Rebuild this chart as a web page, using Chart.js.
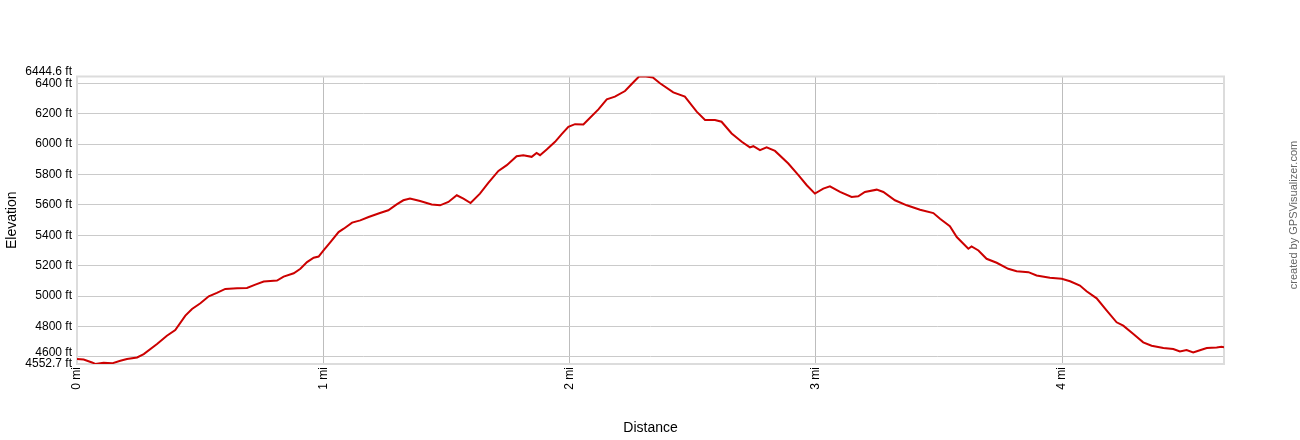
<!DOCTYPE html>
<html>
<head>
<meta charset="utf-8">
<title>Elevation profile</title>
<script src="https://cdn.jsdelivr.net/npm/chart.js@4.4.0/dist/chart.umd.min.js"></script>
<style>
  html, body { margin: 0; padding: 0; background: #fff; }
  .chart-box { position: relative; width: 1300px; height: 440px; }
</style>
</head>
<body>
<div class="chart-box"><canvas id="profile"></canvas></div>
<script>
'use strict';

// Distance along the track (mi)
var distMi = [
  0.000, 0.027, 0.061, 0.074, 0.108, 0.142, 0.176, 0.203, 0.244, 0.271,
  0.325, 0.365, 0.399, 0.440, 0.467, 0.501, 0.535, 0.568, 0.602, 0.650,
  0.690, 0.724, 0.758, 0.812, 0.839, 0.880, 0.907, 0.934, 0.961, 0.981,
  1.001, 1.029, 1.062, 1.083, 1.117, 1.150, 1.184, 1.230, 1.264, 1.298,
  1.325, 1.352, 1.393, 1.440, 1.474, 1.508, 1.542, 1.569, 1.598, 1.636,
  1.670, 1.711, 1.745, 1.785, 1.812, 1.846, 1.866, 1.880, 1.907, 1.941,
  1.968, 1.995, 2.022, 2.056, 2.076, 2.117, 2.151, 2.184, 2.225, 2.262,
  2.282, 2.310, 2.338, 2.367, 2.421, 2.468, 2.516, 2.550, 2.590, 2.617,
  2.658, 2.699, 2.732, 2.746, 2.773, 2.800, 2.834, 2.888, 2.929, 2.963,
  2.996, 3.030, 3.057, 3.098, 3.145, 3.172, 3.199, 3.247, 3.274, 3.321,
  3.369, 3.423, 3.477, 3.504, 3.544, 3.572, 3.599, 3.619, 3.632, 3.660,
  3.693, 3.734, 3.781, 3.815, 3.863, 3.896, 3.950, 3.998, 4.032, 4.072,
  4.099, 4.140, 4.181, 4.221, 4.248, 4.289, 4.329, 4.363, 4.411, 4.451,
  4.478, 4.505, 4.532, 4.553, 4.587, 4.627, 4.647, 4.657
];

// Elevation (ft)
var elevFt = [
  4585, 4582, 4563, 4553, 4561, 4557, 4574, 4585, 4596, 4618,
  4684, 4739, 4776, 4871, 4915, 4952, 4998, 5021, 5047, 5051,
  5053, 5075, 5095, 5102, 5128, 5150, 5179, 5223, 5252, 5260,
  5300, 5355, 5421, 5443, 5483, 5498, 5520, 5546, 5564, 5603,
  5630, 5641, 5625, 5603, 5597, 5619, 5663, 5641, 5612, 5674,
  5744, 5823, 5861, 5920, 5927, 5916, 5942, 5927, 5964, 6015,
  6065, 6114, 6131, 6129, 6162, 6228, 6294, 6312, 6349, 6412,
  6444.6, 6444, 6438, 6400, 6340, 6312, 6213, 6158, 6158, 6147,
  6070, 6015, 5978, 5986, 5960, 5978, 5955, 5872, 5795, 5729,
  5674, 5707, 5722, 5685, 5652, 5656, 5685, 5700, 5685, 5630,
  5597, 5568, 5546, 5509, 5460, 5388, 5344, 5311, 5326, 5300,
  5245, 5219, 5179, 5163, 5157, 5135, 5120, 5113, 5097, 5069,
  5031, 4985, 4904, 4827, 4805, 4750, 4695, 4673, 4658, 4651,
  4635, 4644, 4628, 4640, 4658, 4662, 4666, 4662
];

// Axis ticks
var yTicks = [4552.7, 4600, 4800, 5000, 5200, 5400, 5600, 5800, 6000, 6200, 6400, 6444.6];
var xTicks = [0, 1, 2, 3, 4];
var yMin = 4552.7;
var yMax = 6444.6;
var xMax = 4.657;

Chart.defaults.font.family = '"Liberation Sans", Arial, Helvetica, sans-serif';
Chart.defaults.color = '#000';

var points = distMi.map(function(d, i) {
  return { x: d, y: elevFt[i] };
});

// Light frame round the plot area + credit text on the right
var framePlugin = {
  id: 'frame',
  beforeDatasetsDraw: function(chart) {
    var a = chart.chartArea;
    var ctx = chart.ctx;
    ctx.save();
    ctx.strokeStyle = '#dcdcdc';
    ctx.lineWidth = 2;
    ctx.strokeRect(a.left, a.top, a.right - a.left, a.bottom - a.top);
    ctx.restore();
  },
  afterDraw: function(chart) {
    var ctx = chart.ctx;
    ctx.save();
    ctx.translate(1294, 215);
    ctx.rotate(-Math.PI / 2);
    ctx.textAlign = 'center';
    ctx.textBaseline = 'middle';
    ctx.fillStyle = '#666';
    ctx.font = '11px "Liberation Sans", Arial, sans-serif';
    ctx.fillText('created by GPSVisualizer.com', 0, 0);
    ctx.restore();
  }
};

var ctx = document.getElementById('profile').getContext('2d');

var chart = new Chart(ctx, {
  type: 'line',
  data: {
    datasets: [
      {
        label: 'Elevation',
        data: points,
        borderColor: '#cc0000',
        borderWidth: 2,
        pointRadius: 0,
        tension: 0,
        fill: false
      }
    ]
  },
  plugins: [framePlugin],
  options: {
    responsive: true,
    maintainAspectRatio: false,
    animation: false,
    devicePixelRatio: 1,
    layout: { padding: { top: 76.5, right: 76, bottom: 0, left: 0 } },
    plugins: {
      legend: { display: false },
      tooltip: { enabled: false }
    },
    scales: {
      x: {
        type: 'linear',
        min: 0,
        max: xMax,
        afterBuildTicks: function(scale) {
          scale.ticks = xTicks.map(function(v) { return { value: v }; });
        },
        afterFit: function(scale) {
          scale.height = 76;
        },
        ticks: {
          autoSkip: false,
          minRotation: 90,
          maxRotation: 90,
          padding: 3,
          font: { size: 12 },
          color: '#000',
          callback: function(v) { return v + ' mi'; }
        },
        grid: {
          color: function(c) { return c.tick && c.tick.value === 0 ? 'rgba(0,0,0,0)' : '#bdbdbd'; },
          drawTicks: false
        },
        border: { display: false },
        title: {
          display: true,
          text: 'Distance',
          font: { size: 14 },
          color: '#000',
          padding: { top: 0, bottom: 3 }
        }
      },
      y: {
        type: 'linear',
        min: yMin,
        max: yMax,
        afterBuildTicks: function(scale) {
          scale.ticks = yTicks.map(function(v) { return { value: v }; });
        },
        afterFit: function(scale) {
          scale.width = 77;
        },
        ticks: {
          autoSkip: false,
          padding: 5,
          color: '#000',
          font: function(c) {
            var v = c.tick ? c.tick.value : 0;
            var lh = 1.2;
            if (v === yMax) lh = 0.85;
            if (v === 4600) lh = 0.7;
            return { size: 12, lineHeight: lh };
          },
          callback: function(v) {
            var s = v + ' ft';
            if (v === yMax || v === 4600) return [s, ''];
            return s;
          }
        },
        grid: {
          color: function(c) {
            var v = c.tick ? c.tick.value : 0;
            return (v === yMin || v === yMax) ? 'rgba(0,0,0,0)' : '#cacaca';
          },
          drawTicks: false
        },
        border: { display: false },
        title: {
          display: true,
          text: 'Elevation',
          font: { size: 14 },
          color: '#000',
          padding: { top: 4, bottom: 0 }
        }
      }
    }
  }
});
</script>
</body>
</html>
